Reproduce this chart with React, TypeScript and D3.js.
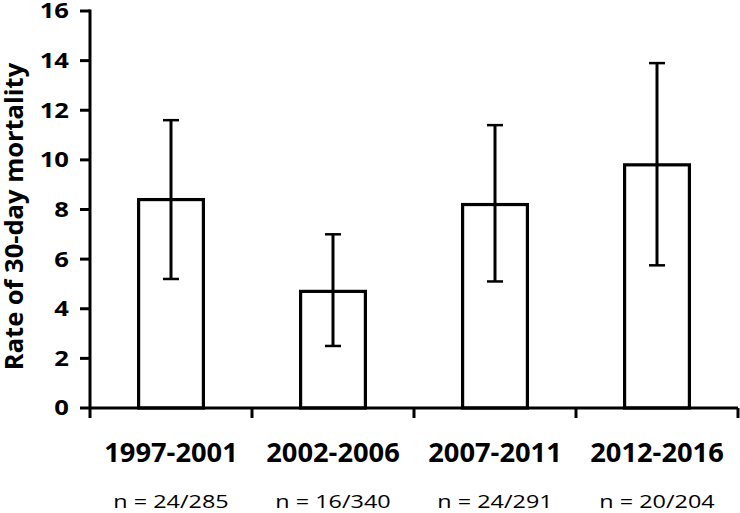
import React, { useEffect, useRef } from 'react';
import * as d3 from 'd3';

const periods = ['1997-2001', '2002-2006', '2007-2011', '2012-2016'];
const rates = [8.4, 4.7, 8.2, 9.8];
const ciLow = [5.2, 2.5, 5.1, 5.75];
const ciHigh = [11.6, 7.0, 11.4, 13.9];
const counts = ['n = 24/285', 'n = 16/340', 'n = 24/291', 'n = 20/204'];
const yTicks = [0, 2, 4, 6, 8, 10, 12, 14, 16];

const W = 740;
const H = 513;
const FONT = '"Open Sans", "Liberation Sans", sans-serif';

const App = () => {
  const svgRef = useRef<SVGSVGElement>(null);

  useEffect(() => {
    const svg = d3.select(svgRef.current);
    svg.selectAll('*').remove();

    const left = 90;
    const right = 738;
    const top = 11;
    const bottom = 408;

    const x = d3.scaleBand().domain(periods).range([left, right]).padding(0);
    const y = d3.scaleLinear().domain([0, 16]).range([bottom, top]);
    const barW = x.bandwidth() * 0.4;
    const cx = (d: string) => (x(d) as number) + x.bandwidth() / 2;

    // bars
    svg.selectAll('.bar')
      .data(periods)
      .enter().append('rect')
      .attr('x', d => cx(d) - barW / 2)
      .attr('y', (d, i) => y(rates[i]))
      .attr('width', barW)
      .attr('height', (d, i) => bottom - y(rates[i]))
      .attr('fill', '#fff')
      .attr('stroke', '#000')
      .attr('stroke-width', 3.2);

    // error bars
    const err = svg.append('g').attr('stroke', '#000');
    periods.forEach((p, i) => {
      err.append('line')
        .attr('x1', cx(p)).attr('x2', cx(p))
        .attr('y1', y(ciLow[i])).attr('y2', y(ciHigh[i]))
        .attr('stroke-width', 3);
      [ciLow[i], ciHigh[i]].forEach(v => {
        err.append('line')
          .attr('x1', cx(p) - 8).attr('x2', cx(p) + 8)
          .attr('y1', y(v)).attr('y2', y(v))
          .attr('stroke-width', 2.5);
      });
    });

    // y axis
    const ya = svg.append('g');
    ya.append('line')
      .attr('x1', left).attr('x2', left)
      .attr('y1', top - 1.5).attr('y2', bottom + 10)
      .attr('stroke', '#000').attr('stroke-width', 3);
    ya.selectAll('.yt')
      .data(yTicks)
      .enter().append('line')
      .attr('x1', left - 10).attr('x2', left)
      .attr('y1', d => y(d)).attr('y2', d => y(d))
      .attr('stroke', '#000').attr('stroke-width', 3);
    ya.selectAll('.yl')
      .data(yTicks)
      .enter().append('text')
      .attr('transform', d => `translate(69, ${y(d)}) scale(1.25, 1)`)
      .attr('dy', '0.36em')
      .attr('text-anchor', 'end')
      .style('font-family', FONT)
      .style('font-weight', 700)
      .style('font-size', '20.5px')
      .text(d => d);

    ya.append('text')
      .attr('transform', `translate(23, ${(top + bottom) / 2 + 7}) rotate(-90)`)
      .attr('text-anchor', 'middle')
      .style('font-family', FONT)
      .style('font-weight', 700)
      .style('font-size', '25.5px')
      .text('Rate of 30-day mortality');

    // x axis
    const xa = svg.append('g');
    xa.append('line')
      .attr('x1', left).attr('x2', right)
      .attr('y1', bottom).attr('y2', bottom)
      .attr('stroke', '#000').attr('stroke-width', 3);
    xa.selectAll('.xt')
      .data(periods)
      .enter().append('line')
      .attr('x1', d => (x(d) as number) + x.bandwidth())
      .attr('x2', d => (x(d) as number) + x.bandwidth())
      .attr('y1', bottom).attr('y2', bottom + 10)
      .attr('stroke', '#000').attr('stroke-width', 3);
    xa.selectAll('.xl')
      .data(periods)
      .enter().append('text')
      .attr('transform', d => `translate(${cx(d)}, 462) scale(1.05, 1)`)
      .attr('text-anchor', 'middle')
      .style('font-family', FONT)
      .style('font-weight', 700)
      .style('font-size', '26px')
      .text(d => d);
    xa.selectAll('.nl')
      .data(counts)
      .enter().append('text')
      .attr('transform', (d, i) => `translate(${cx(periods[i])}, 508) scale(1.3, 1)`)
      .attr('text-anchor', 'middle')
      .style('font-family', FONT)
      .style('font-size', '18px')
      .text(d => d);
  }, []);

  return (
    <svg
      ref={svgRef}
      width={W}
      height={H}
      style={{ position: 'absolute', left: 0, top: 0, background: '#fff', display: 'block' }}
    />
  );
};

export default App;
